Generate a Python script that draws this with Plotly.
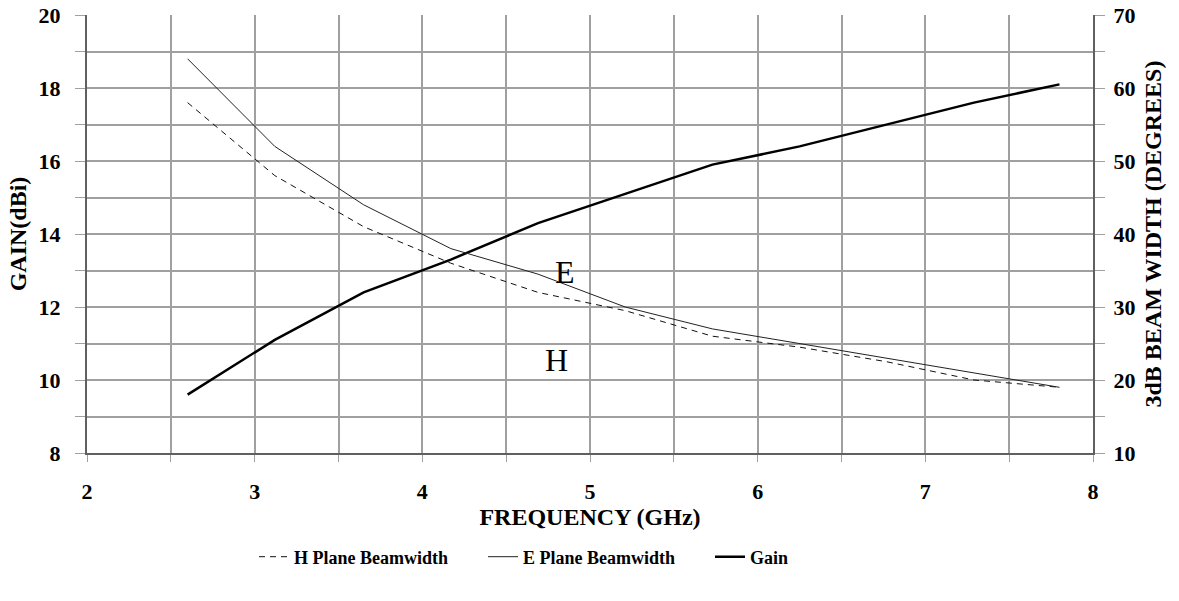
import plotly.graph_objects as go

freq = [2.6, 3.12, 3.65, 4.17, 4.69, 5.21, 5.73, 6.25, 6.77, 7.29, 7.8]
gain_dbi = [9.6, 11.1, 12.4, 13.3, 14.3, 15.1, 15.9, 16.4, 17.0, 17.6, 18.1]
e_plane_deg = [64, 52, 44, 38, 34.5, 30, 27, 25, 23, 21, 19]
h_plane_deg = [58, 48, 41, 36, 32, 29.5, 26, 24.5, 22.5, 20, 19]

x_ticks = [2, 3, 4, 5, 6, 7, 8]
gain_ticks = [8, 10, 12, 14, 16, 18, 20]
deg_ticks = [10, 20, 30, 40, 50, 60, 70]

FONT = "Liberation Serif"

fig = go.Figure()
fig.add_trace(go.Scatter(x=freq, y=h_plane_deg, yaxis="y2", mode="lines",
                         name="<b>H Plane Beamwidth</b>", legend="legend",
                         line=dict(color="#111111", width=1, dash="6px,5px")))
fig.add_trace(go.Scatter(x=freq, y=e_plane_deg, yaxis="y2", mode="lines",
                         name="<b>E Plane Beamwidth</b>", legend="legend2",
                         line=dict(color="#222222", width=1)))
fig.add_trace(go.Scatter(x=freq, y=gain_dbi, mode="lines", name="<b>Gain</b>",
                         legend="legend3",
                         line=dict(color="#000000", width=2.5)))

W, H = 1179, 601
L, T = 87, 15
PW, PH = 1006, 438
R = W - L - PW
B = H - T - PH

def px_x(p):
    return (p - L) / PW

def px_y(p):
    return 1 - (p - T) / PH

grid = "#a0a0a0"
axline = "#606060"
tickfont = dict(family=FONT, size=22, color="black")
titlefont = dict(family=FONT, size=24, color="black")
legfont = dict(family=FONT, size=18, color="black")
leg_y = px_y(557)

fig.update_layout(
    width=W, height=H,
    margin=dict(l=L, r=R, t=T, b=B),
    paper_bgcolor="white", plot_bgcolor="white",
    font=dict(family=FONT, color="black"),
    showlegend=True,
    legend=dict(x=px_x(254), xanchor="left", y=leg_y, yanchor="middle", font=legfont),
    legend2=dict(x=px_x(483), xanchor="left", y=leg_y, yanchor="middle", font=legfont),
    legend3=dict(x=px_x(710), xanchor="left", y=leg_y, yanchor="middle", font=legfont),
    xaxis=dict(range=[2, 8], tickvals=x_ticks, ticktext=[f"<b>{v}</b>" for v in x_ticks],
               showgrid=True, gridcolor=grid, gridwidth=1.5,
               ticks="outside", ticklen=7, tickcolor=grid, ticklabelstandoff=11,
               ticklabeloverflow="allow",
               minor=dict(dtick=0.5, tick0=2, showgrid=True, gridcolor=grid, gridwidth=1.5,
                          ticks="outside", ticklen=7, tickcolor=grid),
               showline=True, linecolor=axline, linewidth=1.5,
               tickfont=tickfont, automargin=False,
               title=dict(text="<b>FREQUENCY (GHz)</b>", standoff=3, font=titlefont),
               zeroline=False),
    yaxis=dict(range=[8, 20], tickvals=gain_ticks, ticktext=[f"<b>{v}</b>" for v in gain_ticks],
               showgrid=True, gridcolor=grid, gridwidth=1.5,
               ticks="outside", ticklen=10, tickcolor=grid, ticklabelstandoff=10,
               ticklabeloverflow="allow",
               minor=dict(dtick=1, tick0=8, showgrid=True, gridcolor=grid, gridwidth=1.5,
                          ticks="outside", ticklen=10, tickcolor=grid),
               showline=True, linecolor=axline, linewidth=2,
               tickfont=tickfont, automargin=False,
               title=dict(text="<b>GAIN(dBi)</b>", standoff=5, font=titlefont),
               zeroline=False),
    yaxis2=dict(range=[10, 70], tickvals=deg_ticks, ticktext=[f"<b>{v}</b>" for v in deg_ticks],
                overlaying="y", side="right",
                showgrid=False, ticks="outside", ticklen=10, tickcolor=grid, ticklabelstandoff=4,
                ticklabeloverflow="allow",
                minor=dict(dtick=5, tick0=10, ticks="outside", ticklen=10, tickcolor=grid, showgrid=False),
                showline=True, linecolor=axline, linewidth=2,
                tickfont=tickfont, automargin=False,
                title=dict(text="<b>3dB BEAM WIDTH (DEGREES)</b>", standoff=10, font=titlefont),
                zeroline=False),
)

fig.add_annotation(x=4.85, y=12.96, text="E", showarrow=False, xref="x", yref="y",
                   font=dict(family=FONT, size=32, color="black"))
fig.add_annotation(x=4.80, y=10.55, text="H", showarrow=False, xref="x", yref="y",
                   font=dict(family=FONT, size=32, color="black"))

fig.write_html("out.html", config={"displayModeBar": False},
               post_script="document.body.style.margin='0';document.body.style.overflow='hidden';")
